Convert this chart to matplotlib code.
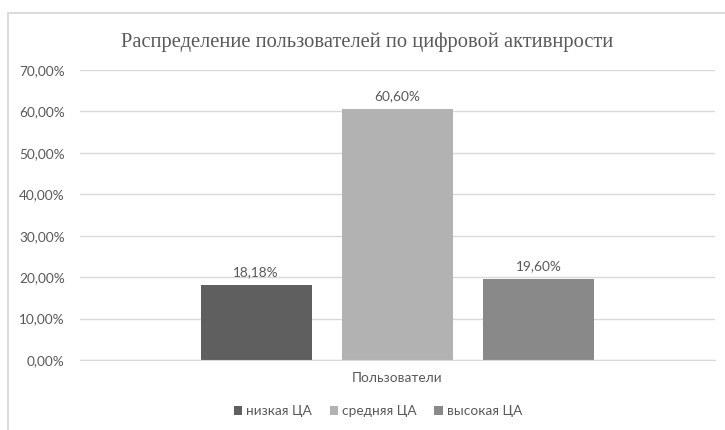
import matplotlib.pyplot as plt
from matplotlib.patches import Rectangle
from matplotlib.ticker import FuncFormatter

# Доли пользователей по уровню цифровой активности
groups = ['низкая ЦА', 'средняя ЦА', 'высокая ЦА']
shares = [18.18, 60.60, 19.60]
colors = ['#5f5f5f', '#b2b2b2', '#898989']
category = 'Пользователи'
title = 'Распределение пользователей по цифровой активнрости'
yticks = [0, 10, 20, 30, 40, 50, 60, 70]

text_color = '#595959'
label_font = ['Lato', 'DejaVu Sans']
fs = 9.8

fig = plt.figure(figsize=(7.25, 4.30), dpi=100)

# рамка области диаграммы
fig.patches.append(Rectangle((8 / 725, -0.1), 1.2, 1 - 13 / 430 + 0.1,
                             transform=fig.transFigure, fill=False,
                             edgecolor='#d9d9d9', linewidth=1.3))

ax = fig.add_axes([80 / 725, 1 - 360 / 430, 635 / 725, 290 / 430])

x = list(range(len(groups)))
bars = ax.bar(x, shares, width=0.784, color=colors, label=groups, zorder=3)

for b, v in zip(bars, shares):
    ax.annotate(f'{v:.2f}%'.replace('.', ','),
                (b.get_x() + b.get_width() / 2, v),
                xytext=(0, 5), textcoords='offset points',
                ha='center', va='bottom', fontsize=fs,
                color=text_color, family=label_font)

ax.set_xlim(-1.245, 3.245)
ax.set_ylim(0, 70)
ax.set_yticks(yticks)
ax.yaxis.set_major_formatter(FuncFormatter(lambda v, p: f'{v:.2f}%'.replace('.', ',')))
ax.set_xticks([1])
ax.set_xticklabels([category])
ax.tick_params(axis='both', length=0, labelsize=fs, colors=text_color)
ax.tick_params(axis='y', pad=11)
ax.tick_params(axis='x', pad=9)
for lbl in ax.get_xticklabels() + ax.get_yticklabels():
    lbl.set_family(label_font)

ax.grid(axis='y', color='#d9d9d9', linewidth=1, zorder=0)
for s in ['top', 'right', 'left']:
    ax.spines[s].set_visible(False)
ax.spines['bottom'].set_color('#d9d9d9')
ax.spines['bottom'].set_zorder(4)

fig.text(367 / 725, 1 - 42 / 430, title, ha='center', va='center',
         fontsize=14.8, color=text_color, family='Liberation Serif')

leg = fig.legend(handles=list(bars), labels=groups, loc='center',
                 bbox_to_anchor=(378 / 725, 1 - 411 / 430), ncol=3,
                 frameon=False, handlelength=0.6, handleheight=0.6,
                 handletextpad=0.3, columnspacing=1.3,
                 prop={'family': label_font, 'size': fs})
for t in leg.get_texts():
    t.set_color(text_color)

fig.savefig('out.png', dpi=100)
